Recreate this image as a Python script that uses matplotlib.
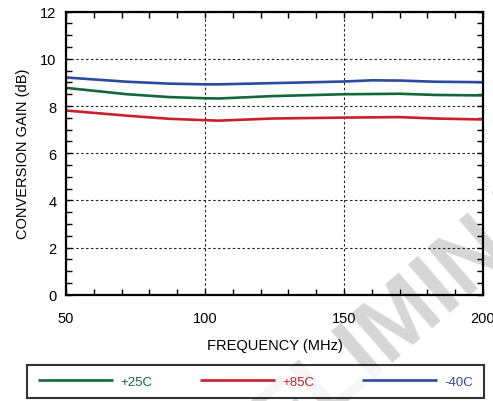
import matplotlib
matplotlib.use("Agg")
import matplotlib.pyplot as plt
import numpy as np

plt.rcParams['font.family'] = ['Liberation Sans', 'DejaVu Sans']

freq = [50, 72, 87, 100, 105, 124, 150, 160, 170, 183, 200]
gain_25 = [8.77, 8.50, 8.38, 8.33, 8.32, 8.42, 8.50, 8.51, 8.52, 8.47, 8.45]
gain_85 = [7.81, 7.59, 7.46, 7.40, 7.38, 7.47, 7.51, 7.52, 7.53, 7.47, 7.43]
gain_m40 = [9.21, 9.03, 8.95, 8.92, 8.92, 8.97, 9.04, 9.09, 9.08, 9.03, 9.01]
labels = ['+25C', '+85C', '-40C']
colors = ['#13673a', '#c9202c', '#2c4a9e']

xticks = [50, 100, 150, 200]
yticks = [0, 2, 4, 6, 8, 10, 12]

W, H = 493, 402
fig = plt.figure(figsize=(W / 100, H / 100), dpi=100)

# watermark (behind everything)
fig.text(405 / W, 1 - 315 / H, 'PRELIMINARY', fontsize=66, fontweight='bold',
         color='#d6d6d6', rotation=41, ha='center', va='center',
         rotation_mode='anchor', zorder=-5)

ax = fig.add_axes([66 / W, 1 - 295.7 / H, (483 - 66) / W, (295.7 - 12.7) / H])
ax.patch.set_alpha(0)

handles = []
for y, c, lab in zip([gain_25, gain_85, gain_m40], colors, labels):
    h, = ax.plot(freq, y, color=c, lw=1.9, label=lab, solid_capstyle='butt',
                 solid_joinstyle='round')
    handles.append(h)

ax.set_xlim(50, 200)
ax.set_ylim(0, 12)
ax.set_xticks(xticks)
ax.set_yticks(yticks)
ax.set_xticks(np.arange(50, 201, 10), minor=True)
ax.set_yticks(np.arange(0, 12.01, 0.5), minor=True)
ax.tick_params(which='both', direction='in', top=True, right=True, width=1, color='black')
ax.tick_params(which='major', length=4)
ax.tick_params(which='minor', length=4)
ax.tick_params(axis='x', which='major', pad=12, labelsize=10.5)
ax.tick_params(axis='y', which='major', pad=7, labelsize=10.5)
for s in ax.spines.values():
    s.set_linewidth(1.6)
ax.grid(True, which='major', color='#222222', linestyle=(0, (2.2, 2.2)), linewidth=0.8)

ax.set_xlabel('FREQUENCY (MHz)', fontsize=10.5, labelpad=9)
ax.set_ylabel('CONVERSION GAIN (dB)', fontsize=10.5, labelpad=7)

leg = fig.legend(handles=handles, labels=labels, loc='center',
                 bbox_to_anchor=(27 / W, 1 - 401 / H, (484 - 27) / W, (401 - 364) / H),
                 mode='expand', ncol=3, fontsize=9.5, handlelength=5.7,
                 handletextpad=0.55, borderaxespad=0, fancybox=False,
                 frameon=True, edgecolor='black', borderpad=0.8)
leg.get_frame().set_linewidth(1.5)
leg.get_frame().set_facecolor((1, 1, 1, 0))
for t, c in zip(leg.get_texts(), colors):
    t.set_color(c)

fig.savefig('out.png', dpi=100)
